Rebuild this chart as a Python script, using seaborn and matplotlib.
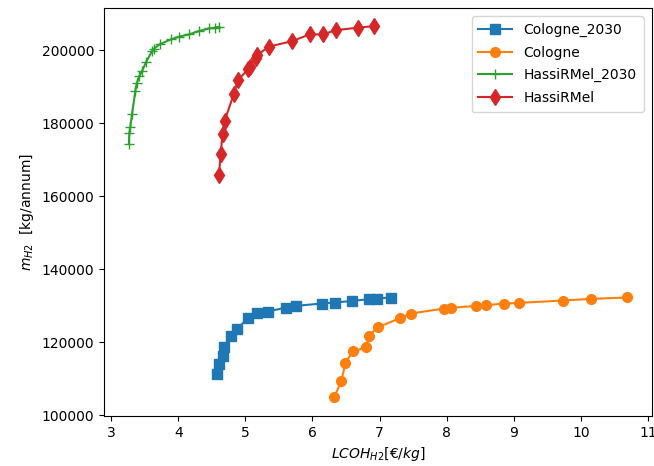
import matplotlib
matplotlib.use("Agg")
import matplotlib.pyplot as plt
import seaborn as sns
import pandas as pd

series_names = ["Cologne_2030", "Cologne", "HassiRMel_2030", "HassiRMel"]

cologne_2030_x = [4.58, 4.60, 4.66, 4.68, 4.78, 4.88, 5.04, 5.18, 5.33, 5.61, 5.75, 6.14, 6.34, 6.59, 6.85, 6.96, 7.17]
cologne_2030_y = [111230, 114000, 116080, 118550, 121730, 123560, 126760, 127950, 128400, 129500, 129950, 130600, 130870, 131300, 131800, 131970, 132240]

cologne_x = [6.32, 6.43, 6.49, 6.60, 6.80, 6.84, 6.97, 7.30, 7.47, 7.96, 8.06, 8.44, 8.59, 8.86, 9.08, 9.73, 10.15, 10.69]
cologne_y = [104850, 109230, 114250, 117450, 118550, 121730, 124030, 126580, 127860, 129230, 129400, 129950, 130140, 130600, 130770, 131420, 131870, 132250]

hassi_2030_x = [3.264, 3.27, 3.285, 3.31, 3.36, 3.38, 3.42, 3.46, 3.52, 3.61, 3.64, 3.72, 3.89, 4.01, 4.16, 4.31, 4.46, 4.54, 4.61]
hassi_2030_y = [174440, 177260, 179100, 182470, 188850, 190960, 192960, 194330, 196800, 199810, 200470, 201640, 203010, 203750, 204380, 205290, 206030, 206210, 206480]

hassi_x = [4.607, 4.63, 4.66, 4.69, 4.83, 4.89, 5.04, 5.07, 5.16, 5.17, 5.35, 5.70, 5.96, 6.16, 6.35, 6.68, 6.91]
hassi_y = [165840, 171510, 176990, 180630, 188130, 191870, 194790, 195530, 198000, 198630, 201010, 202550, 204380, 204380, 205560, 206210, 206660]

xs = [cologne_2030_x, cologne_x, hassi_2030_x, hassi_x]
ys = [cologne_2030_y, cologne_y, hassi_2030_y, hassi_y]

frames = []
for name, x, y in zip(series_names, xs, ys):
    frames.append(pd.DataFrame({"x": x, "y": y, "series": name}))
df = pd.concat(frames, ignore_index=True)

colors = sns.color_palette("tab10")[:4]
markers = ["s", "o", "+", "d"]
msizes = [6.5, 7, 7, 8]

fig = plt.figure(figsize=(6.54, 4.66), dpi=100)
ax = fig.add_subplot(111)
fig.subplots_adjust(left=104/654, right=652/654, top=1-7.5/466, bottom=1-416/466)

for name, c, m, ms in zip(series_names, colors, markers, msizes):
    sub = df[df["series"] == name]
    sns.lineplot(data=sub, x="x", y="y", ax=ax, color=c, marker=m, markersize=ms,
                 markeredgecolor=c, markeredgewidth=1.0, label=name, sort=False,
                 estimator=None, linewidth=1.5)

ax.set_xlabel(r"$LCOH_{H2}[€/kg]$")
ax.set_ylabel(r"$m_{H2}$  [kg/annum]")
ax.set_xticks(range(3, 12))
ax.legend(loc="upper right", labelspacing=0.62, handlelength=2.4, handletextpad=0.85,
          borderpad=0.5, borderaxespad=0.6)

fig.savefig("out.png", dpi=100)
